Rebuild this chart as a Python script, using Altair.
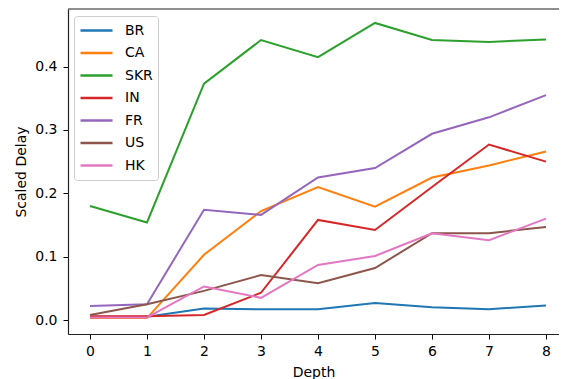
import altair as alt
import pandas as pd

depth = [0, 1, 2, 3, 4, 5, 6, 7, 8]
series_names = ["BR", "CA", "SKR", "IN", "FR", "US", "HK"]
BR = [0.005, 0.005, 0.018, 0.017, 0.017, 0.027, 0.020, 0.017, 0.023]
CA = [0.003, 0.003, 0.103, 0.172, 0.210, 0.179, 0.225, 0.244, 0.266]
SKR = [0.180, 0.154, 0.373, 0.442, 0.415, 0.469, 0.442, 0.439, 0.443]
IN = [0.006, 0.006, 0.008, 0.043, 0.158, 0.142, 0.210, 0.277, 0.250]
FR = [0.022, 0.025, 0.174, 0.166, 0.225, 0.240, 0.294, 0.320, 0.355]
US = [0.008, 0.025, 0.046, 0.071, 0.058, 0.082, 0.137, 0.137, 0.147]
HK = [0.004, 0.004, 0.053, 0.035, 0.087, 0.101, 0.137, 0.126, 0.160]
colors = ["#1f77b4", "#ff7f0e", "#2ca02c", "#d62728", "#9467bd", "#8c564b", "#e377c2"]
y_top = 0.491

vals = [BR, CA, SKR, IN, FR, US, HK]
rows = []
for name, v in zip(series_names, vals):
    for d, y in zip(depth, v):
        rows.append({"Depth": d, "Scaled Delay": y, "series": name})
df = pd.DataFrame(rows)

FONT = "DejaVu Sans"
SPINE = "#222222"

xscale = alt.Scale(domain=[-0.386, 8.228], nice=False, zero=False)
yscale = alt.Scale(domain=[-0.0221, y_top], nice=False, zero=False)

lines = alt.Chart(df).mark_line(strokeWidth=2, clip=True).encode(
    x=alt.X("Depth:Q", scale=xscale,
            axis=alt.Axis(values=depth, format="d", grid=False, tickSize=5,
                          labelFontSize=14, titleFontSize=14, labelPadding=5,
                          titlePadding=7, domain=True, domainColor=SPINE,
                          domainWidth=1.2, tickColor="#000",
                          labelColor="#000", titleColor="#000",
                          titleFontWeight="normal", labelFlush=False)),
    y=alt.Y("Scaled Delay:Q", scale=yscale, title="Scaled Delay",
            axis=alt.Axis(values=[0.0, 0.1, 0.2, 0.3, 0.4], format=".1f",
                          grid=False, tickSize=5, labelFontSize=14,
                          titleFontSize=14, labelPadding=6, titlePadding=6,
                          domain=True, domainColor=SPINE, domainWidth=1.2,
                          tickColor="#000", labelColor="#000",
                          titleColor="#000", titleFontWeight="normal",
                          labelFlush=False)),
    color=alt.Color("series:N",
                    scale=alt.Scale(domain=series_names, range=colors),
                    sort=series_names,
                    legend=alt.Legend(title=None, orient="none", legendX=6,
                                      legendY=7, symbolType="stroke",
                                      symbolSize=1024, symbolStrokeWidth=2.5,
                                      clipHeight=19, rowPadding=3.5,
                                      labelFontSize=14, labelFont=FONT,
                                      labelColor="#000", labelOffset=11,
                                      padding=5, strokeColor="#cccccc",
                                      fillColor="white", cornerRadius=3)),
)

# top spine of the frame, drawn at the top of the y domain
top = alt.Chart(pd.DataFrame({"Scaled Delay": [y_top]})).mark_rule(
    color=SPINE, strokeWidth=1.2
).encode(y=alt.Y("Scaled Delay:Q", scale=yscale, title="Scaled Delay"))

chart = alt.layer(lines, top).properties(
    width=491,
    height=325,
    padding={"left": 60, "top": 1, "right": 0, "bottom": 47},
    autosize=alt.AutoSizeParams(type="none"),
).configure(
    font=FONT
).configure_view(
    stroke=None
)

chart.save("out.html", embed_options={"renderer": "svg", "actions": False})
